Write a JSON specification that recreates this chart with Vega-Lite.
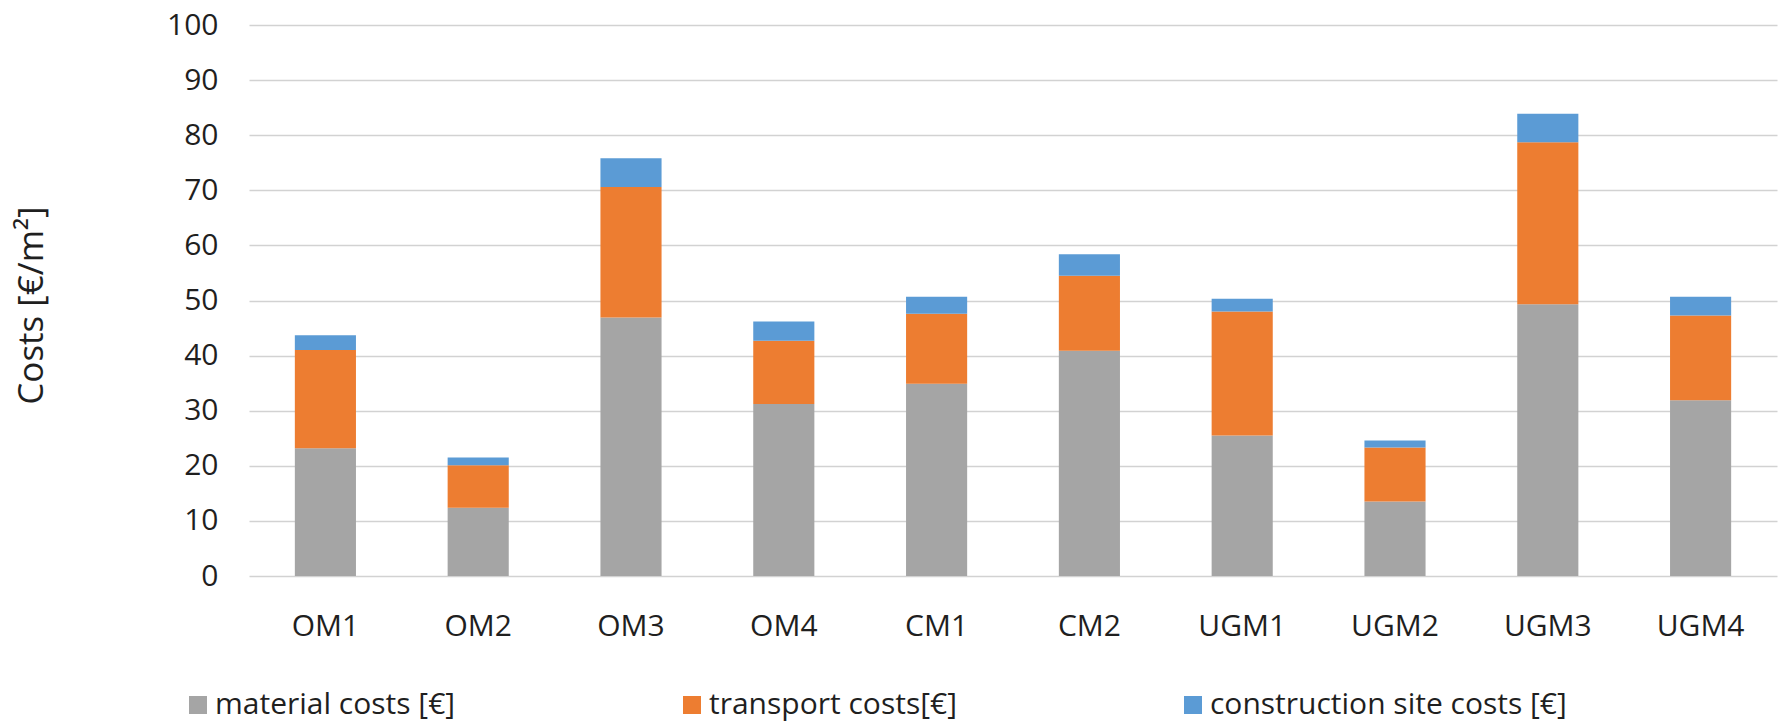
{
  "$schema": "https://vega.github.io/schema/vega-lite/v6.json",
  "autosize": {"type": "none"},
  "padding": {"left": 249, "top": 25, "right": 2, "bottom": 150},
  "width": 1528,
  "height": 551,
  "background": "white",
  "config": {
    "view": {"stroke": null},
    "font": "Open Sans"
  },
  "data": {
    "values": [
      {"option": "OM1", "cost": "material costs [€]", "value": 23.2},
      {"option": "OM1", "cost": "transport costs[€]", "value": 17.8},
      {"option": "OM1", "cost": "construction site costs [€]", "value": 2.7},
      {"option": "OM2", "cost": "material costs [€]", "value": 12.4},
      {"option": "OM2", "cost": "transport costs[€]", "value": 7.7},
      {"option": "OM2", "cost": "construction site costs [€]", "value": 1.4},
      {"option": "OM3", "cost": "material costs [€]", "value": 46.9},
      {"option": "OM3", "cost": "transport costs[€]", "value": 23.7},
      {"option": "OM3", "cost": "construction site costs [€]", "value": 5.2},
      {"option": "OM4", "cost": "material costs [€]", "value": 31.2},
      {"option": "OM4", "cost": "transport costs[€]", "value": 11.5},
      {"option": "OM4", "cost": "construction site costs [€]", "value": 3.5},
      {"option": "CM1", "cost": "material costs [€]", "value": 34.9},
      {"option": "CM1", "cost": "transport costs[€]", "value": 12.7},
      {"option": "CM1", "cost": "construction site costs [€]", "value": 3.1},
      {"option": "CM2", "cost": "material costs [€]", "value": 40.9},
      {"option": "CM2", "cost": "transport costs[€]", "value": 13.6},
      {"option": "CM2", "cost": "construction site costs [€]", "value": 3.9},
      {"option": "UGM1", "cost": "material costs [€]", "value": 25.5},
      {"option": "UGM1", "cost": "transport costs[€]", "value": 22.5},
      {"option": "UGM1", "cost": "construction site costs [€]", "value": 2.3},
      {"option": "UGM2", "cost": "material costs [€]", "value": 13.5},
      {"option": "UGM2", "cost": "transport costs[€]", "value": 9.8},
      {"option": "UGM2", "cost": "construction site costs [€]", "value": 1.3},
      {"option": "UGM3", "cost": "material costs [€]", "value": 49.3},
      {"option": "UGM3", "cost": "transport costs[€]", "value": 29.4},
      {"option": "UGM3", "cost": "construction site costs [€]", "value": 5.2},
      {"option": "UGM4", "cost": "material costs [€]", "value": 31.9},
      {"option": "UGM4", "cost": "transport costs[€]", "value": 15.4},
      {"option": "UGM4", "cost": "construction site costs [€]", "value": 3.4}
    ]
  },
  "transform": [
    {
      "calculate": "indexof(['material costs [€]', 'transport costs[€]', 'construction site costs [€]'], datum.cost)",
      "as": "stackRank"
    }
  ],
  "mark": {"type": "bar"},
  "encoding": {
    "x": {
      "field": "option",
      "type": "nominal",
      "sort": ["OM1", "OM2", "OM3", "OM4", "CM1", "CM2", "UGM1", "UGM2", "UGM3", "UGM4"],
      "scale": {"paddingInner": 0.6, "paddingOuter": 0.3},
      "axis": {
        "title": null,
        "labelAngle": 0,
        "domain": false,
        "ticks": false,
        "grid": false,
        "labelFont": "Open Sans",
        "labelFontSize": 30,
        "labelColor": "#1f1f1f",
        "labelBaseline": "alphabetic",
        "labelPadding": 59
      }
    },
    "y": {
      "field": "value",
      "type": "quantitative",
      "stack": "zero",
      "scale": {"domain": [0, 100], "nice": false},
      "axis": {
        "title": "Costs [€/m²]",
        "values": [0, 10, 20, 30, 40, 50, 60, 70, 80, 90, 100],
        "domain": false,
        "ticks": false,
        "grid": true,
        "gridColor": "#d2d2d2",
        "gridWidth": 1.6,
        "labelFont": "Open Sans",
        "labelFontSize": 30,
        "labelColor": "#1f1f1f",
        "labelPadding": 31,
        "titleFont": "Open Sans",
        "titleFontSize": 35,
        "titleFontWeight": "normal",
        "titleColor": "#1f1f1f",
        "titleAngle": -90,
        "titleAlign": "center",
        "titleBaseline": "alphabetic",
        "titleX": -207,
        "titleY": 280
      }
    },
    "order": {"field": "stackRank", "type": "quantitative", "sort": "ascending"},
    "color": {
      "field": "cost",
      "type": "nominal",
      "sort": ["material costs [€]", "transport costs[€]", "construction site costs [€]"],
      "scale": {
        "domain": ["material costs [€]", "transport costs[€]", "construction site costs [€]"],
        "range": ["#a5a5a5", "#ed7d31", "#5b9bd5"]
      },
      "legend": {
        "title": null,
        "orient": "none",
        "direction": "horizontal",
        "legendX": -66,
        "legendY": 665,
        "symbolType": "square",
        "symbolSize": 324,
        "symbolStrokeWidth": 0,
        "labelFont": "Open Sans",
        "labelFontSize": 30,
        "labelColor": "#1f1f1f",
        "labelOffset": 2,
        "labelLimit": 0,
        "columnPadding": 221
      }
    }
  }
}
